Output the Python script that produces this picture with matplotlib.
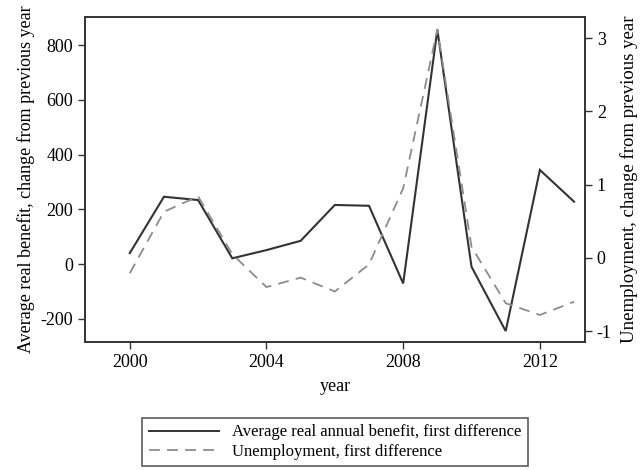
import matplotlib
matplotlib.use("Agg")
import matplotlib.pyplot as plt
from matplotlib.lines import Line2D

plt.rcParams['font.family'] = ['Liberation Serif', 'DejaVu Serif']
plt.rcParams['axes.unicode_minus'] = False

years = [2000, 2001, 2002, 2003, 2004, 2005, 2006, 2007, 2008, 2009, 2010, 2011, 2012, 2013]
# first differences
benefit = [40, 246, 234, 21, 51, 85, 216, 213, -71, 856, -10, -245, 344, 228]
unemployment = [-0.21, 0.63, 0.84, 0.05, -0.40, -0.27, -0.46, -0.09, 0.95, 3.12, 0.15, -0.62, -0.78, -0.60]

left_ticks = [-200, 0, 200, 400, 600, 800]
right_ticks = [-1, 0, 1, 2, 3]
x_ticks = [2000, 2004, 2008, 2012]

fig = plt.figure(figsize=(6.42, 4.70), dpi=100)
ax = fig.add_axes([0.1324, 0.2723, 0.7788, 0.6915])
ax2 = ax.twinx()

ax.plot(years, benefit, color='#333333', lw=1.5, solid_joinstyle='miter')
ax2.plot(years, unemployment, color='#8c8c8c', lw=1.3, linestyle=(0, (6, 4)))

ax.set_xlim(1998.69, 2013.32)
ax.set_ylim(-285, 903)
ax2.set_ylim(-1.15, 3.29)

ax.set_xticks(x_ticks)
ax.set_yticks(left_ticks)
ax2.set_yticks(right_ticks)

for a in (ax, ax2):
    a.tick_params(direction='out', length=5, width=1, labelsize=13, color='#333333')
    for s in a.spines.values():
        s.set_linewidth(1.2)
        s.set_color('#333333')

ax.set_xlabel('year', fontsize=13, labelpad=5)
ax.set_ylabel('Average real benefit, change from previous year', fontsize=13, labelpad=4)
ax2.set_ylabel('Unemployment, change from previous year', fontsize=13.5, labelpad=6)

handles = [Line2D([], [], color='#333333', lw=1.4),
           Line2D([], [], color='#8c8c8c', lw=1.3, linestyle=(0, (6, 4)))]
labels = ['Average real annual benefit, first difference', 'Unemployment, first difference']
leg = fig.legend(handles, labels, loc='lower center', bbox_to_anchor=(0.522, -0.01),
                 frameon=True, fancybox=False, fontsize=12, handlelength=4.2,
                 borderpad=0.4, labelspacing=0.2, edgecolor='#333333')
leg.get_frame().set_linewidth(1.2)

fig.savefig('out.png', dpi=100)
